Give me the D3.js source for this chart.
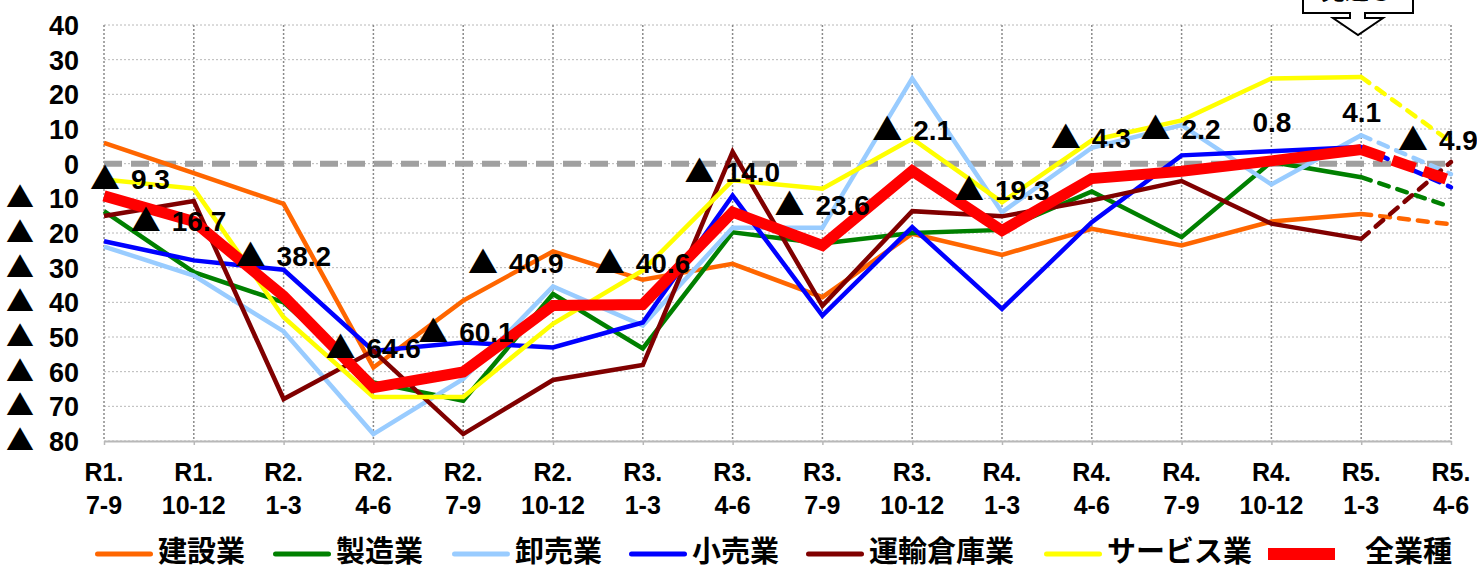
<!DOCTYPE html>
<html lang="ja">
<head>
<meta charset="utf-8">
<script src="https://cdn.jsdelivr.net/npm/d3@7"></script>
<style>
  html, body { margin: 0; padding: 0; background: #fff; }
  svg { display: block; }
  text { font-family: "Liberation Sans", "Noto Sans CJK JP", sans-serif; font-weight: bold; fill: #000; }
  .tri { font-family: "Noto Sans CJK JP", sans-serif; }
  .cond { font-family: "Liberation Sans Narrow", "Liberation Sans", sans-serif; }
  .cjk { font-family: "Noto Sans CJK JP", sans-serif; }
</style>
</head>
<body>
<svg id="chart" width="1477" height="568"></svg>
<script>
// Quarter labels (era year / months)
const periodYear = ["R1.", "R1.", "R2.", "R2.", "R2.", "R2.", "R3.", "R3.", "R3.", "R3.", "R4.", "R4.", "R4.", "R4.", "R5.", "R5."];
const periodMonths = ["7-9", "10-12", "1-3", "4-6", "7-9", "10-12", "1-3", "4-6", "7-9", "10-12", "1-3", "4-6", "7-9", "10-12", "1-3", "4-6"];

// DI by industry (last quarter is the outlook)
const construction = [6.0, -2.7, -11.6, -58.8, -39.5, -25.3, -33.5, -28.9, -38.5, -20.2, -26.3, -18.8, -23.6, -16.7, -14.5, -17.5];
const manufacturing = [-13.7, -31.3, -40.0, -63.1, -68.4, -37.6, -53.3, -19.8, -23.0, -20.0, -19.1, -8.0, -21.2, 0.5, -3.9, -12.5];
const wholesale = [-23.9, -32.3, -48.4, -78.0, -62.1, -35.4, -46.7, -18.5, -18.5, 24.6, -14.0, 4.6, 11.1, -6.0, 8.2, -3.0];
const retail = [-22.4, -27.9, -30.6, -54.0, -51.6, -53.0, -45.8, -9.2, -43.8, -18.3, -41.9, -16.9, 2.4, 3.6, 4.8, -6.8];
const transport = [-15.1, -10.8, -67.9, -54.0, -78.0, -62.4, -58.1, 3.4, -41.0, -13.7, -15.2, -10.6, -5.0, -17.3, -21.7, 0.5];
const services = [-4.6, -7.2, -44.3, -67.3, -67.3, -46.2, -30.8, -4.8, -7.2, 7.2, -11.1, 6.7, 12.5, 24.6, 25.0, 6.2];
const allIndustries = [-9.3, -16.7, -38.2, -64.6, -60.1, -40.9, -40.6, -14.0, -23.6, -2.1, -19.3, -4.3, -2.2, 0.8, 4.1, -4.9];

const seriesNames = ["建設業", "製造業", "卸売業", "小売業", "運輸倉庫業", "サービス業", "全業種"];
const seriesValues = [construction, manufacturing, wholesale, retail, transport, services, allIndustries];

// y-axis tick values
const yTicks = [40, 30, 20, 10, 0, -10, -20, -30, -40, -50, -60, -70, -80];

// styling
const seriesColors = ["#FF6600", "#008000", "#99CCFF", "#0000FF", "#800000", "#FFFF00", "#FF0000"];
const seriesWidths = [4.5, 4.5, 4.5, 4.5, 4.5, 4.5, 11];
// label placement relative to each 全業種 point: [dx to label left, dy to label middle]
const labelOffsets = [[-12, -17], [-61, -1], [-46, -40], [-46, -40], [-43, -40], [-83, -42], [-46, -41], [-46, -40],
                      [-46, -40], [-38, -41], [-46, -41], [-39, -41], [-39, -42], [-19, -39], [-19, -37], [-51, -41]];
// legend item left edges
const legendX = [95, 273, 452, 629, 806, 1044, 1268];

const svg = d3.select("#chart");
const plot = { left: 104, right: 1451, top: 25, bottom: 441 };

const x = d3.scalePoint().domain(d3.range(periodYear.length)).range([plot.left, plot.right]);
const y = d3.scaleLinear().domain([-80, 40]).range([plot.bottom, plot.top]);

// grid
const grid = svg.append("g");
grid.selectAll("line.h").data(yTicks).join("line")
  .attr("x1", plot.left).attr("x2", plot.right)
  .attr("y1", d => y(d)).attr("y2", d => y(d))
  .attr("stroke", "#b8b8b8").attr("stroke-width", 1).attr("stroke-dasharray", "2,2");
grid.selectAll("line.v").data(x.domain()).join("line")
  .attr("x1", d => x(d)).attr("x2", d => x(d))
  .attr("y1", plot.top).attr("y2", plot.bottom)
  .attr("stroke", "#8a8a8a").attr("stroke-width", 1.5).attr("stroke-dasharray", "2,2");

// category axis
const xAxis = svg.append("g")
  .attr("transform", `translate(0,${plot.bottom})`)
  .call(d3.axisBottom(x).tickSizeInner(4).tickSizeOuter(0).tickFormat(""));
xAxis.select(".domain").attr("stroke", "#b8b8b8").attr("stroke-width", 2);
xAxis.selectAll(".tick line").attr("stroke", "#b8b8b8").attr("stroke-width", 1.5);

const xLabels = svg.append("g");
x.domain().forEach(i => {
  const t = xLabels.append("text").attr("class", "cond").attr("text-anchor", "middle").attr("font-size", 25);
  t.append("tspan").attr("x", x(i)).attr("y", 481).text(periodYear[i]);
  t.append("tspan").attr("x", x(i)).attr("y", 514).text(periodMonths[i]);
});

// value axis labels (negatives shown with ▲)
const yLabels = svg.append("g").attr("font-size", 27);
yTicks.forEach(v => {
  const t = yLabels.append("text").attr("y", y(v) + 10);
  if (v < 0) t.append("tspan").attr("class", "tri").attr("x", 6).attr("font-size", 28).text("▲");
  t.append("tspan").attr("x", 79).attr("text-anchor", "end").text(Math.abs(v));
});

// zero line
svg.append("line")
  .attr("x1", plot.left).attr("x2", plot.right)
  .attr("y1", y(0)).attr("y2", y(0))
  .attr("stroke", "#a0a0a0").attr("stroke-width", 6).attr("stroke-dasharray", "18,9");

// series: actual quarters solid, outlook quarter dashed
const line = d3.line().x(d => x(d.i)).y(d => y(d.v));
const last = periodYear.length - 1;
seriesValues.forEach((vals, s) => {
  const pts = vals.map((v, i) => ({ i, v }));
  const g = svg.append("g");
  g.append("path").datum(pts.slice(0, last))
    .attr("d", line).attr("fill", "none")
    .attr("stroke", seriesColors[s]).attr("stroke-width", seriesWidths[s])
    .attr("stroke-linejoin", "miter").attr("stroke-linecap", "butt");
  g.append("path").datum(pts.slice(last - 1))
    .attr("d", line).attr("fill", "none")
    .attr("stroke", seriesColors[s]).attr("stroke-width", seriesWidths[s])
    .attr("stroke-dasharray", s === 6 ? "24,9" : "10,9")
    .attr("stroke-linecap", s === 6 ? "butt" : "round");
});

// 全業種 value labels (negatives shown with ▲)
const num = d3.format(".1f");
const lab = svg.append("g").attr("font-size", 28);
allIndustries.forEach((v, i) => {
  const [dx, dy] = labelOffsets[i];
  const left = x(i) + dx;
  const t = lab.append("text").attr("y", y(v) + dy + 10);
  if (v < 0) {
    t.append("tspan").attr("class", "tri").attr("x", left - 2).attr("font-size", 30).text("▲");
    t.append("tspan").attr("x", left + 39).text(num(-v));
  } else {
    t.append("tspan").attr("x", left).text(num(v));
  }
});

// outlook callout
const callout = svg.append("g");
callout.append("path")
  .attr("d", "M1303,-5 L1303,13 L1350,13 L1350,18 L1333,18 L1358,35 L1383,18 L1365,18 L1365,13 L1413,13 L1413,-5 Z")
  .attr("fill", "#fff").attr("stroke", "#000").attr("stroke-width", 2);
callout.append("text").attr("class", "cjk").attr("x", 1357).attr("y", -1).attr("text-anchor", "middle").attr("font-size", 24).text("見通し");

// legend
const legend = svg.append("g").attr("font-size", 29);
seriesNames.forEach((name, s) => {
  const lx = legendX[s];
  let tx;
  if (s === 6) {
    legend.append("rect").attr("x", lx).attr("y", 548).attr("width", 67).attr("height", 12).attr("fill", seriesColors[s]);
    tx = lx + 97;
  } else {
    legend.append("line").attr("x1", lx + 2.5).attr("x2", lx + 55.5).attr("y1", 554).attr("y2", 554)
      .attr("stroke", seriesColors[s]).attr("stroke-width", 5).attr("stroke-linecap", "round");
    tx = lx + 63;
  }
  legend.append("text").attr("class", "cjk").attr("x", tx).attr("y", 562).text(name);
});
</script>
</body>
</html>
